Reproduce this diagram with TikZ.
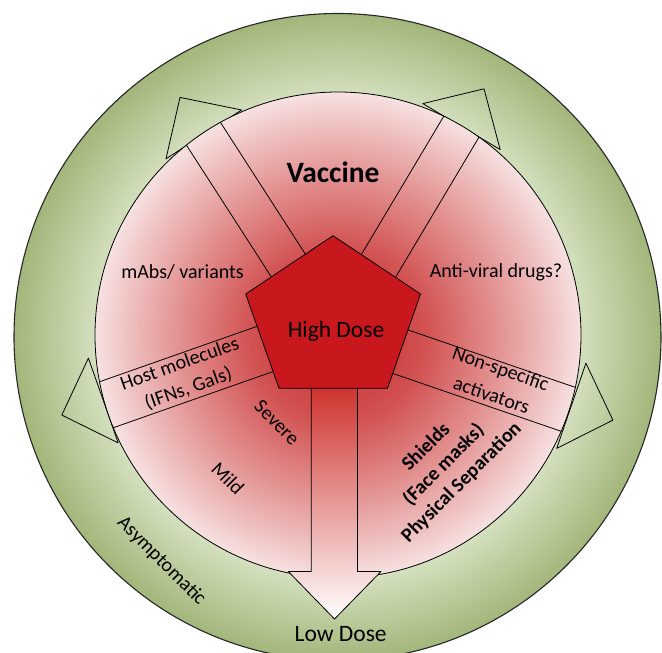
\documentclass[tikz,border=0pt]{standalone}
\usepackage{fontspec}
\setmainfont{Carlito}
\usetikzlibrary{calc}
\definecolor{pk0}{RGB}{198,40,40}
\definecolor{pk1}{RGB}{210,82,82}
\definecolor{pk2}{RGB}{227,146,146}
\definecolor{pk3}{RGB}{240,196,196}
\definecolor{pk4}{RGB}{247,225,225}
\definecolor{gr0}{RGB}{224,233,208}
\definecolor{gr1}{RGB}{213,225,192}
\definecolor{gr2}{RGB}{163,182,122}
\definecolor{pentred}{RGB}{200,24,30}
\definecolor{arrowred}{RGB}{205,45,40}
\definecolor{arrowmid}{RGB}{232,160,160}
\pgfdeclareradialshading{pinkglow}{\pgfpoint{0bp}{0bp}}{color(0bp)=(pk0); color(9bp)=(pk1); color(16.5bp)=(pk2); color(22bp)=(pk3); color(25bp)=(pk4); color(50bp)=(pk4)}
\pgfdeclareradialshading{greenring}{\pgfpoint{0bp}{0bp}}{color(0bp)=(gr0); color(18.5bp)=(gr1); color(25bp)=(gr2); color(50bp)=(gr2)}
\tikzset{
  outline/.style={draw=black, line width=0.8pt, line join=round},
  lab/.style={font=\fontsize{20}{26}\selectfont, inner sep=0pt, align=center},
  boldlab/.style={font=\fontsize{20}{25}\selectfont\bfseries, inner sep=0pt, align=center},
  doselab/.style={font=\fontsize{23.5}{26}\selectfont, inner sep=0pt}
}
\begin{document}
\begin{tikzpicture}[x=1pt,y=-1pt]
\useasboundingbox (0,0) rectangle (662,653);
\clip (0,0) rectangle (662,653);
% centres
\coordinate (G) at (337.5,337);
\coordinate (C) at (338,335);
% green ring
\shade[shading=greenring] (G) circle [radius=323.5pt];
\draw[line width=1.1pt, black!85] (G) circle [radius=323.5pt];
% open arrow heads (behind the pink disc)
\draw[outline] (180.0,97.4) -- (241.6,110.0) -- (166.0,158.8) -- cycle;
\draw[outline] (484.0,88.8) -- (500.2,149.6) -- (422.8,103.6) -- cycle;
\draw[outline] (61.8,415.1) -- (88.4,358.1) -- (118.2,442.9) -- cycle;
\draw[outline] (612.9,420.1) -- (556.7,448.4) -- (585.9,363.2) -- cycle;
% pink disc
\shade[shading=pinkglow] (C) circle [radius=243pt];
\draw[outline] (C) circle [radius=243pt];
% bands
\begin{scope}
\clip (C) circle [radius=243pt];
\coordinate (ula) at (210.2,106.5); \coordinate (ulb) at (345.7,316.7);
\coordinate (ulc) at (175.8,128.7); \coordinate (uld) at (311.3,338.9);
\coordinate (ura) at (489.3,119.9); \coordinate (urb) at (361.3,334.7);
\coordinate (urc) at (454.1,98.9);  \coordinate (urd) at (326.1,313.7);
\coordinate (lfa) at (78.1,389.3);  \coordinate (lfb) at (285.6,316.3);
\coordinate (lfc) at (94.1,434.5);  \coordinate (lfd) at (301.6,361.5);
\coordinate (rta) at (581.0,438.1); \coordinate (rtb) at (372.9,366.6);
\coordinate (rtc) at (596.0,394.5); \coordinate (rtd) at (387.9,323.0);
\draw[outline] (ula) -- (ulb); \draw[outline] (ulc) -- (uld);
\draw[outline] (ura) -- (urb); \draw[outline] (urc) -- (urd);
\draw[outline] (lfa) -- (lfb); \draw[outline] (lfc) -- (lfd);
\draw[outline] (rta) -- (rtb); \draw[outline] (rtc) -- (rtd);
\end{scope}
% down arrow
\shade[top color=arrowred, middle color=arrowmid, bottom color=white]
  (311.3,380) -- (311.3,571.5) -- (288.3,571.5) -- (334.5,619) -- (381,571.5) -- (357.5,571.5) -- (357.5,380) -- cycle;
\draw[outline] (311.3,380) -- (311.3,571.5) -- (288.3,571.5) -- (334.5,619) -- (381,571.5) -- (357.5,571.5) -- (357.5,380);
% pentagon
\filldraw[outline, fill=pentred] (333,235.7) -- (420.5,294) -- (387.5,388.3) -- (279,388.3) -- (245.7,294) -- cycle;
% texts
\node[font=\fontsize{29.5}{32}\selectfont\bfseries, inner sep=0pt] (vac) at (333,172.5) {Vaccine};
\node[lab] (mabs) at (182.5,272) {mAbs/ variants};
\node[lab] (anti) at (496,272.5) {Anti-viral drugs?};
\node[doselab] (high) at (336,331) {High Dose};
\node[lab, rotate=19.5] (host) at (184.2,376.5) {Host molecules\\(IFNs, Gals)};
\node[font=\fontsize{20}{28}\selectfont, inner sep=0pt, align=center, rotate=-19] (nons) at (496.2,381.7) {Non-specific\\activators};
\node[lab, rotate=-45] (sev) at (277,422.5) {Severe};
\node[lab, rotate=-45] (mild) at (228,478.3) {Mild};
\node[lab, rotate=-45] (asym) at (161.5,561) {Asymptomatic};
\node[boldlab, rotate=45] (shld) at (444,465) {Shields\\(Face masks)\\Physical Separation};
\node[doselab] (low) at (340.7,634.5) {Low Dose};
\end{tikzpicture}
\end{document}
